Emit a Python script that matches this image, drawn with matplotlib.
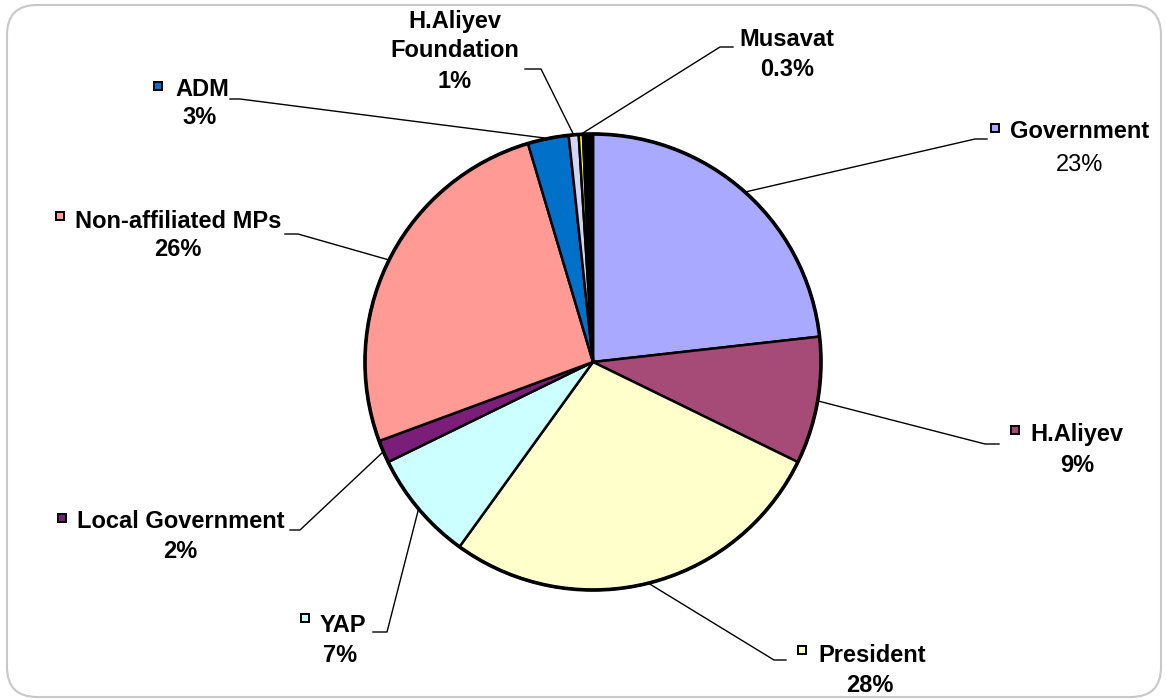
import matplotlib.pyplot as plt
import numpy as np
from matplotlib.patches import FancyBboxPatch, Rectangle, Circle

plt.rcParams['font.family'] = ['Liberation Sans', 'DejaVu Sans']

# slices clockwise from 12 o'clock
names = ['Government', 'H.Aliyev', 'President', 'YAP', 'Local Government',
         'Non-affiliated MPs', 'ADM', 'H.Aliyev\nFoundation', 'Musavat', '', '']
values = [23.2, 9.0, 27.7, 7.8, 1.6, 26.0, 2.9, 0.7, 0.3, 0.1, 0.6]
pct_labels = ['23%', '9%', '28%', '7%', '2%', '26%', '3%', '1%', '0.3%', '', '']
colors = ['#A9A9FF', '#A64B77', '#FFFFCC', '#CCFFFF', '#7A1E7A',
          '#FF9A94', '#0070C8', '#D4D4F4', '#FFFF00', '#00A0A0', '#000000']

W, H = 1166, 700
fig = plt.figure(figsize=(W / 100, H / 100), dpi=100)
ax = fig.add_axes([0, 0, 1, 1])

def Y(y):
    return H - y

# rounded frame
ax.add_patch(FancyBboxPatch((7, Y(697)), 1154, 692, boxstyle='round,pad=0,rounding_size=30',
                            fc='white', ec='#C8C8C8', lw=1.5, zorder=0))

cx, cy, r = 593, Y(362), 228
wedges, _ = ax.pie(values, colors=colors, startangle=90, counterclock=False,
                   center=(cx, cy), radius=r, frame=True,
                   wedgeprops=dict(edgecolor='black', linewidth=1.8))
ax.set_xlim(0, W)
ax.set_ylim(0, H)
ax.axis('off')
ax.add_patch(Circle((cx, cy), r, fill=False, ec='black', lw=2.6, zorder=5))

# label layout: elbow, stub end, marker pos, name pos/align, pct pos
layout = {
    0: dict(elbow=(975, 139), stub=987, mark=(995, 128), name=(1010, 132, 'left'), pct=(1080, 165)),
    1: dict(elbow=(985, 444), stub=999, mark=(1015, 430), name=(1030, 435, 'left'), pct=(1077, 465)),
    2: dict(elbow=(774, 660), stub=786, mark=(802, 650), name=(818, 655, 'left'), pct=(870, 685)),
    3: dict(elbow=(387, 632), stub=373, mark=(305, 618), name=(320, 625, 'left'), pct=(340, 655)),
    4: dict(elbow=(300, 530), stub=290, mark=(62, 518), name=(77, 522, 'left'), pct=(180, 552)),
    5: dict(elbow=(298, 234), stub=285, mark=(60, 216), name=(75, 222, 'left'), pct=(178, 250)),
    6: dict(elbow=(240, 99), stub=230, mark=(158, 86), name=(175, 90, 'left'), pct=(200, 118)),
    7: dict(elbow=(541, 69), stub=525, mark=None, name=(455, 36, 'center'), pct=(455, 81)),
    8: dict(elbow=(720, 47), stub=733, mark=None, name=(787, 40, 'center'), pct=(787, 69)),
}

fs = 17
for i, w in enumerate(wedges):
    if i not in layout:
        continue
    L = layout[i]
    th = np.deg2rad((w.theta1 + w.theta2) / 2)
    px, py = cx + r * np.cos(th), cy + r * np.sin(th)
    ex, ey = L['elbow']
    ax.plot([px, ex, L['stub']], [py, Y(ey), Y(ey)], color='black', lw=1, zorder=6)
    if L['mark'] is not None:
        mx, my = L['mark']
        ax.add_patch(Rectangle((mx - 4, Y(my) - 4), 8, 8, fc=colors[i], ec='black', lw=1.4, zorder=6))
    nx, ny, ha = L['name']
    ax.text(nx, Y(ny), names[i], ha=ha, va='center', fontsize=fs, fontweight='bold',
            linespacing=1.3, zorder=7)
    qx, qy = L['pct']
    ax.text(qx, Y(qy), pct_labels[i], ha='center', va='center', fontsize=fs,
            fontweight='normal' if i == 0 else 'bold', zorder=7)

fig.savefig('out.png', dpi=100)
